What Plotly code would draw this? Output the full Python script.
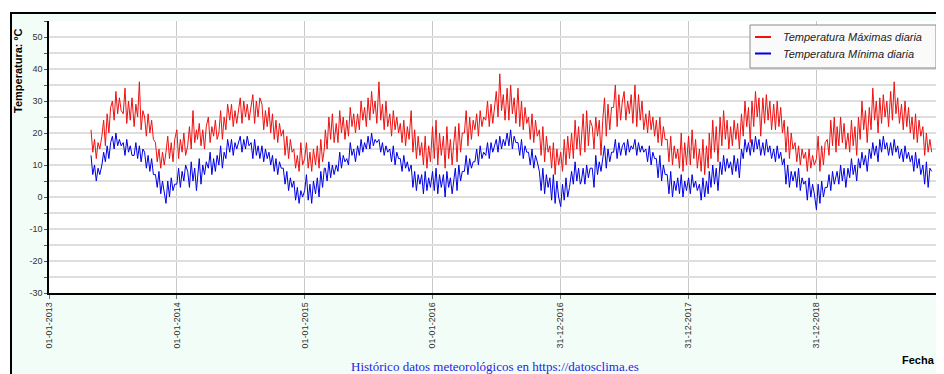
import pandas as pd
import plotly.graph_objects as go

# ---- data: daily max / min temperature, sampled every 5 days (days 1,6,11,16,21,26 of each month) ----
first_month = "2013-05-01"
last_month = "2019-11-01"
day_offsets = [0, 5, 10, 15, 20, 25]

tmax = [
    # 2013 May-Dec
    21, 14, 18, 12, 17, 15,   19, 24, 16, 26, 20, 28,   30, 24, 33, 26, 31, 27,
    26, 34, 23, 30, 24, 31,   22, 29, 25, 36, 21, 27,   25, 19, 26, 20, 24, 18,
    17, 11, 15, 9, 14, 10,    14, 19, 12, 17, 11, 18,
    # 2014
    21, 12, 18, 14, 20, 13,   16, 22, 15, 27, 17, 21,   18, 23, 16, 21, 15, 22,
    25, 17, 22, 19, 24, 18,   20, 27, 18, 25, 21, 29,   24, 29, 22, 27, 23, 28,
    31, 23, 30, 25, 29, 24,   28, 32, 23, 30, 25, 31,   29, 21, 27, 22, 28, 20,
    26, 18, 24, 17, 23, 19,   21, 13, 19, 12, 18, 14,   15, 9, 13, 8, 17, 10,
    # 2015
    12, 17, 9, 14, 8, 15,     10, 16, 9, 18, 11, 15,    21, 15, 25, 18, 26, 17,
    23, 17, 27, 20, 25, 18,   24, 19, 28, 22, 26, 20,   26, 21, 30, 24, 28, 22,
    31, 24, 33, 26, 30, 23,   36, 24, 29, 21, 30, 22,   26, 19, 27, 21, 25, 20,
    23, 17, 24, 16, 22, 18,   27, 14, 21, 12, 19, 13,   17, 10, 19, 9, 16, 11,
    # 2016
    22, 12, 24, 10, 20, 13,   19, 9, 22, 12, 18, 10,    16, 22, 11, 23, 14, 20,
    20, 27, 16, 25, 18, 24,   21, 26, 19, 27, 22, 25,   24, 30, 22, 29, 23, 28,
    33, 25, 38.5, 27, 32, 24, 34, 24, 35, 26, 31, 23,   34, 22, 30, 21, 28, 23,
    25, 18, 26, 17, 24, 19,   21, 13, 22, 11, 19, 14,   16, 9, 17, 7, 15, 10,
    # 2017
    14, 8, 18, 10, 19, 12,    20, 12, 24, 15, 22, 13,   18, 26, 14, 27, 16, 24,
    22, 15, 25, 19, 24, 13,   24, 31, 19, 29, 21, 28,   28, 35, 22, 32, 24, 30,
    33, 24, 30, 26, 32, 23,   35, 22, 32, 24, 30, 21,   26, 20, 27, 21, 25, 19,
    24, 17, 25, 16, 22, 18,   18, 11, 19, 10, 16, 12,   15, 9, 20, 8, 17, 10,
    # 2018
    19, 10, 21, 12, 18, 9,    15, 8, 18, 7, 16, 9,      20, 12, 24, 14, 22, 11,
    25, 16, 27, 18, 24, 15,   22, 16, 24, 18, 23, 15,   26, 19, 30, 22, 28, 17,
    30, 22, 33, 25, 31, 19,   31, 23, 32, 24, 30, 21,   29, 21, 30, 22, 28, 20,
    24, 14, 22, 12, 20, 15,   17, 11, 16, 10, 15, 12,   14, 8, 15, 9, 13, 10,
    # 2019 Jan-Nov
    12, 19, 8, 16, 10, 17,    18, 13, 24, 16, 25, 14,   22, 16, 25, 17, 23, 15,
    20, 14, 24, 16, 22, 13,   25, 18, 30, 21, 27, 17,   28, 21, 34, 24, 30, 20,
    31, 23, 32, 25, 30, 22,   33, 24, 36, 26, 31, 23,   29, 21, 30, 22, 28, 20,
    25, 18, 26, 17, 24, 19,   22, 13, 20, 14, 18, 14,
]

tmin = [
    # 2013 May-Dec
    13, 7, 10, 5, 9, 7,       10, 14, 11, 16, 12, 17,   19, 15, 20, 16, 18, 16,
    17, 13, 18, 14, 16, 13,   13, 17, 12, 16, 11, 15,   14, 9, 13, 8, 12, 7,
    7, 3, 8, 1, 5, 2,         -2, 5, 0, 6, 2, 4,
    # 2014
    4, 9, 3, 8, 5, 10,        8, 3, 11, 5, 9, 2,        6, 12, 4, 10, 7, 11,
    9, 14, 7, 12, 8, 13,      10, 16, 9, 14, 12, 18,    14, 18, 13, 17, 15, 17,
    19, 14, 18, 15, 19, 16,   17, 12, 18, 13, 16, 12,   16, 11, 15, 12, 14, 10,
    13, 8, 12, 7, 11, 9,      9, 4, 8, 2, 6, 3,         5, -1, 3, -2, 2, 0,
    # 2015
    2, 7, -1, 4, -2, 5,       1, 6, 0, 8, 3, 9,         9, 5, 11, 6, 10, 7,
    10, 8, 14, 9, 13, 11,     12, 10, 17, 13, 15, 11,   16, 13, 18, 14, 17, 15,
    19, 15, 20, 16, 18, 17,   18, 14, 17, 13, 16, 14,   15, 11, 16, 10, 14, 12,
    12, 8, 13, 9, 11, 8,      10, 3, 8, 2, 7, 4,        7, 1, 8, 2, 6, 3,
    # 2016
    8, 2, 9, 1, 7, 3,         7, 0, 8, 3, 6, 1,         4, 9, 2, 10, 5, 8,
    8, 13, 7, 12, 9, 11,      11, 15, 10, 16, 12, 14,   13, 17, 12, 17, 14, 16,
    18, 14, 19, 15, 18, 16,   20, 16, 21, 15, 19, 17,   17, 13, 18, 12, 16, 14,
    14, 10, 15, 9, 13, 11,    8, 2, 9, 1, 7, 3,         6, -1, 7, -2, 5, 0,
    # 2017
    -3, 4, -1, 6, 0, 3,       8, 4, 11, 5, 9, 4,        5, 9, 4, 10, 6, 9,
    9, 3, 13, 7, 11, 8,       12, 16, 9, 15, 11, 14,    14, 18, 12, 17, 13, 16,
    17, 13, 18, 14, 16, 15,   18, 13, 17, 14, 16, 14,   15, 11, 16, 10, 14, 12,
    12, 6, 13, 5, 10, 7,      7, 1, 8, 0, 5, 2,         6, 1, 7, 0, 5, 2,
    # 2018
    6, 1, 7, 3, 5, 2,         4, -1, 6, 0, 5, 1,        8, 3, 10, 4, 9, 2,
    11, 7, 13, 8, 12, 9,      11, 7, 13, 8, 12, 6,      15, 12, 18, 14, 17, 13,
    18, 14, 19, 15, 18, 13,   17, 13, 18, 14, 16, 12,   15, 11, 16, 12, 14, 10,
    12, 4, 10, 3, 8, 5,       8, 3, 9, 2, 6, 4,         5, -1, 6, 0, 4, 1,
    # 2019 Jan-Nov
    -4, 4, -2, 5, 0, 3,       3, 7, 2, 8, 4, 6,         8, 4, 10, 5, 9, 3,
    9, 6, 12, 7, 10, 5,       12, 9, 14, 10, 13, 8,     15, 12, 17, 13, 16, 11,
    18, 14, 19, 15, 17, 13,   17, 13, 18, 14, 16, 12,   15, 11, 16, 12, 14, 11,
    13, 8, 14, 9, 12, 7,      10, 4, 11, 3, 9, 8,
]

tick_dates = ["2013-01-01", "2014-01-01", "2015-01-01", "2016-01-01",
              "2016-12-31", "2017-12-31", "2018-12-31", "2019-12-31"]
tick_labels = ["01-01-2013", "01-01-2014", "01-01-2015", "01-01-2016",
               "31-12-2016", "31-12-2017", "31-12-2018", "31-12-2019"]
y_ticks = list(range(-30, 60, 5))
y_labels = [str(v) if v % 10 == 0 and v <= 50 else "" for v in y_ticks]

series_names = ["Temperatura Máximas diaria", "Temperatura Mínima diaria"]
series_colors = ["#f01010", "#0000e6"]

# ---- dates ----
months = pd.date_range(first_month, last_month, freq="MS")
dates = [m + pd.Timedelta(days=d) for m in months for d in day_offsets]
assert len(dates) == len(tmax) == len(tmin), (len(dates), len(tmax), len(tmin))

# ---- figure (page body adds an 8px margin; positions below are page pixels) ----
OFF = 8
W, H = 944 - OFF, 374 - OFF
L, R, T = 49 - OFF, 0, 21 - OFF
B = H - (293 - OFF)
pw, ph = W - L - R, H - T - B


def px(x):
    return (x - OFF - L) / pw


def py(y):
    return (H - B - (y - OFF)) / ph


fig = go.Figure()
for vals, name, col in zip([tmax, tmin], series_names, series_colors):
    fig.add_trace(go.Scatter(x=dates, y=vals, mode="lines", name=name,
                             line=dict(color=col, width=1), showlegend=False))

font = "Arial, Liberation Sans, sans-serif"

fig.update_layout(
    width=W, height=H,
    margin=dict(l=L, r=R, t=T, b=B),
    paper_bgcolor="white",
    plot_bgcolor="white",
    font=dict(family=font, size=9, color="#333"),
    xaxis=dict(
        type="date", range=["2013-01-01", "2019-12-31 06:00"],
        tickmode="array", tickvals=tick_dates, ticktext=tick_labels,
        tickangle=-90, tickfont=dict(size=9, color="#333"),
        showgrid=True, gridcolor="#c8c8c8", gridwidth=1,
        showline=True, linecolor="black", linewidth=1.5,
        ticks="outside", ticklen=4, tickcolor="#777",
        zeroline=False,
    ),
    yaxis=dict(
        range=[-30, 55],
        tickmode="array", tickvals=y_ticks, ticktext=y_labels,
        tickfont=dict(size=9, color="#333"),
        showgrid=True, gridcolor="#dedede", gridwidth=2,
        showline=True, linecolor="black", linewidth=1.5,
        ticks="outside", ticklen=3, tickcolor="#555",
        zeroline=False,
    ),
    shapes=[
        # container with black frame
        dict(type="rect", xref="paper", yref="paper", layer="below",
             x0=px(11), x1=px(980), y0=py(400), y1=py(13),
             fillcolor="#f3fdf8", line=dict(color="black", width=2)),
        # plot area
        dict(type="rect", xref="paper", yref="paper", layer="below",
             x0=0, x1=1, y0=0, y1=1, fillcolor="white", line=dict(width=0)),
        # legend box
        dict(type="rect", xref="paper", yref="paper",
             x0=px(750), x1=px(936), y0=py(68), y1=py(25),
             fillcolor="#fafafa", line=dict(color="#8a8a8a", width=1)),
        dict(type="line", xref="paper", yref="paper",
             x0=px(755), x1=px(771), y0=py(37), y1=py(37),
             line=dict(color=series_colors[0], width=2)),
        dict(type="line", xref="paper", yref="paper",
             x0=px(755), x1=px(771), y0=py(53.5), y1=py(53.5),
             line=dict(color=series_colors[1], width=2)),
    ],
    annotations=[
        dict(xref="paper", yref="paper", x=px(781), y=py(37), xanchor="left", yanchor="middle",
             text="<i>" + series_names[0] + "</i>", showarrow=False,
             font=dict(family=font, size=11, color="#222")),
        dict(xref="paper", yref="paper", x=px(781), y=py(53.5), xanchor="left", yanchor="middle",
             text="<i>" + series_names[1] + "</i>", showarrow=False,
             font=dict(family=font, size=11, color="#222")),
        dict(xref="paper", yref="paper", x=px(18), y=py(71), xanchor="center", yanchor="middle",
             text="<b>Temperatura: ºC</b>", textangle=-90, showarrow=False,
             font=dict(family=font, size=11, color="black")),
        dict(xref="paper", yref="paper", x=px(495), y=py(366), xanchor="center", yanchor="middle",
             text="Histórico datos meteorológicos en https://datosclima.es", showarrow=False,
             font=dict(family="Liberation Serif, Times New Roman, serif", size=13, color="#2424e0")),
        dict(xref="paper", yref="paper", x=px(918), y=py(360), xanchor="center", yanchor="middle",
             text="<b>Fecha</b>", showarrow=False,
             font=dict(family=font, size=11, color="black")),
    ],
)

fig.write_html("out.html")
